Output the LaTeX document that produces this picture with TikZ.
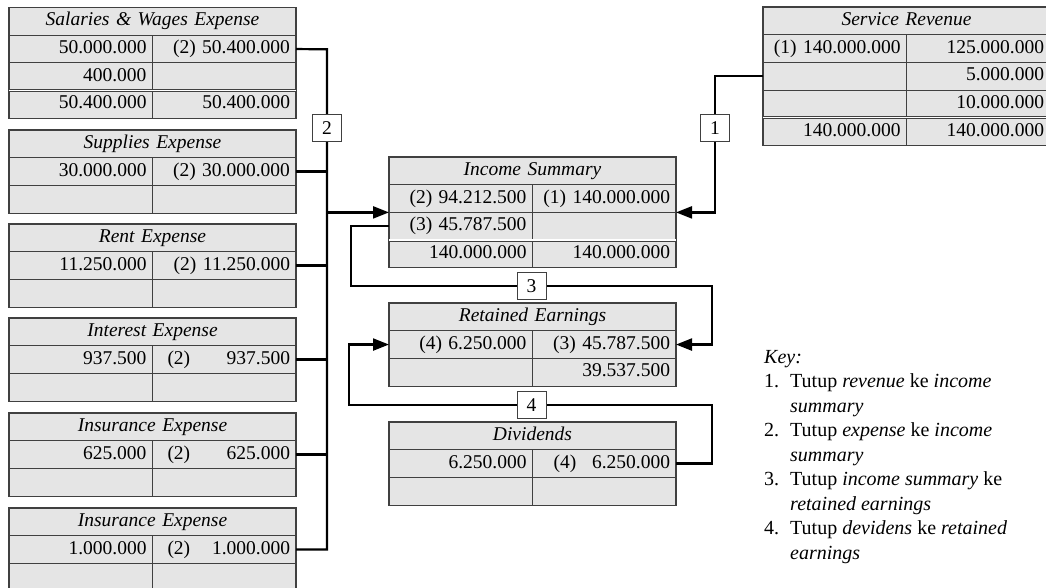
\documentclass[tikz,border=0pt]{standalone}
\usepackage{fontspec}
\setmainfont{Liberation Serif}
\usetikzlibrary{arrows.meta,calc}
\definecolor{cellfill}{HTML}{E5E5E5}
\definecolor{cellline}{HTML}{404040}
\newcommand\cw{143.5}
\newcommand\rh{27.7}
\tikzset{
  basecell/.style={draw=cellline, fill=cellfill, line width=1.1pt, minimum height=27.7pt,
    inner xsep=6pt, inner ysep=0pt, outer sep=0pt, anchor=north west,
    text height=13.5pt, text depth=4.5pt},
  numcell/.style={basecell, minimum width=143.5pt, text width=131.5pt, align=right},
  titlecell/.style={basecell, minimum width=287pt, text width=275pt, align=center, font=\fontsize{19.5}{23}\selectfont\itshape},
  dblline/.style={draw=cellline, double=white, double distance=1.3pt, line width=0.9pt},
  conn/.style={draw=black, line width=2.2pt},
  arr/.style={conn, -{Triangle[length=16pt,width=12pt]}},
  lbl/.style={draw=cellline, fill=white, line width=0.9pt, minimum width=29pt, minimum height=27pt, inner sep=0pt},
  keyline/.style={anchor=base west, inner sep=0pt, font=\fontsize{20}{24}\selectfont},
}
\newcommand\acct[5]{%
  \node[titlecell] (#1-t) at (#2,#3) {#4};
  \foreach \lt/\rt [count=\i] in {#5} {
    \node[numcell] (#1-\i L) at (#2, #3+\i*\rh) {\lt};
    \node[numcell] (#1-\i R) at (#2+\cw, #3+\i*\rh) {\rt};
  }%
}
\begin{document}
\begin{tikzpicture}[x=1pt, y=-1pt, font=\fontsize{19.5}{23}\selectfont]
\useasboundingbox (0,0) rectangle (1046,588);

% expense accounts
\acct{sal}{9}{7.5}{Salaries \& Wages Expense}{50.000.000/(2) 50.400.000, 400.000/, 50.400.000/50.400.000}
\draw[dblline] (sal-3L.north west) -- (sal-3R.north east);
\acct{sup}{9}{130}{Supplies Expense}{30.000.000/(2) 30.000.000, /}
\acct{rent}{9}{224}{Rent Expense}{11.250.000/(2) 11.250.000, /}
\acct{int}{9}{318}{Interest Expense}{937.500/\hspace{9pt}(2)\hfill 937.500, /}
\acct{insa}{9}{413}{Insurance Expense}{625.000/\hspace{9pt}(2)\hfill 625.000, /}
\acct{insb}{9}{508}{Insurance Expense}{1.000.000/\hspace{9pt}(2)\hfill 1.000.000, /}

% central accounts
\acct{inc}{389}{157}{Income Summary}{(2) 94.212.500/(1) 140.000.000, (3) 45.787.500/, 140.000.000/140.000.000}
\draw[dblline] (inc-3L.north west) -- (inc-3R.north east);
\acct{ret}{389}{303}{Retained Earnings}{(4) 6.250.000/(3) 45.787.500, /39.537.500}
\acct{div}{389}{422}{Dividends}{6.250.000/\hspace{15pt}(4)\hfill 6.250.000, /}

% service revenue
\acct{srv}{763}{7}{Service Revenue}{(1) 140.000.000/125.000.000, /5.000.000, /10.000.000, 140.000.000/140.000.000}
\draw[dblline] (srv-4L.north west) -- (srv-4R.north east);

% connector 2
\coordinate (b2top) at (327, 49.3);
\coordinate (b2bot) at (327, 549.5);
\draw[conn] (sal-1R.east) -- (b2top) -- (b2bot) -- (insb-1R.east);
\draw[conn] (sup-1R.east) -- (sup-1R.east -| b2top);
\draw[conn] (rent-1R.east) -- (rent-1R.east -| b2top);
\draw[conn] (int-1R.east) -- (int-1R.east -| b2top);
\draw[conn] (insa-1R.east) -- (insa-1R.east -| b2top);
\draw[arr] (b2top |- inc-1L.south west) -- (inc-1L.south west);
\node[lbl] (l2) at (327,128) {2};

% connector 1
\coordinate (c1) at (715,0);
\draw[arr] (srv-2L.west) -- (srv-2L.west -| c1) |- (inc-1R.south east);
\node[lbl] (l1) at (715,128) {1};

% connector 3
\coordinate (c3a) at (351,286);
\coordinate (c3b) at (712,286);
\draw[arr] (inc-2L.west) -| (c3a) -- (c3b) |- (ret-1R.east);
\node[lbl] (l3) at (531.5,286) {3};

% connector 4
\coordinate (c4a) at (712,405);
\coordinate (c4b) at (349,405);
\draw[arr] (div-1R.east) -| (c4a) -- (c4b) |- (ret-1L.west);
\node[lbl] (l4) at (531.5,405) {4};

% key
\node[keyline] (k0) at (764,363) {\textit{Key:}};
\node[keyline] (k1) at (764,387.5) {\makebox[26pt][l]{1.}Tutup \textit{revenue} ke \textit{income}};
\node[keyline] (k2) at (790,412) {\textit{summary}};
\node[keyline] (k3) at (764,436.5) {\makebox[26pt][l]{2.}Tutup \textit{expense} ke \textit{income}};
\node[keyline] (k4) at (790,461) {\textit{summary}};
\node[keyline] (k5) at (764,485.5) {\makebox[26pt][l]{3.}Tutup \textit{income summary} ke};
\node[keyline] (k6) at (790,510) {\textit{retained earnings}};
\node[keyline] (k7) at (764,534.5) {\makebox[26pt][l]{4.}Tutup \textit{devidens} ke \textit{retained}};
\node[keyline] (k8) at (790,559) {\textit{earnings}};
\end{tikzpicture}
\end{document}
